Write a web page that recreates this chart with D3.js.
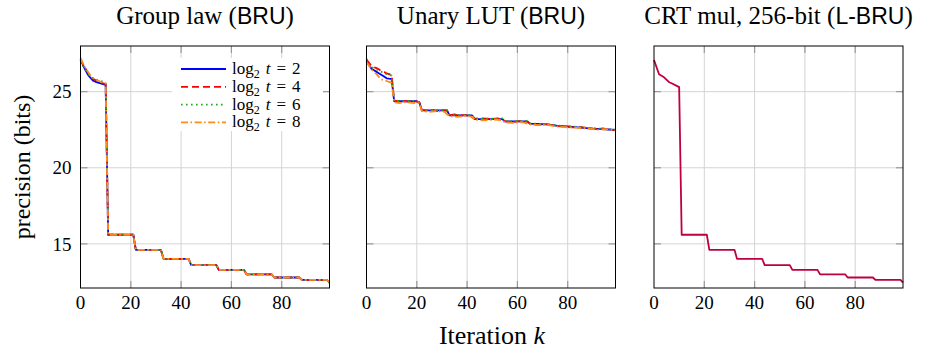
<!DOCTYPE html>
<html>
<head>
<meta charset="utf-8">
<script src="https://cdn.jsdelivr.net/npm/d3@7"></script>
<style>
  body { margin: 0; background: #fff; }
  text { fill: #000; }
</style>
</head>
<body>
<div id="chart"></div>
<script>
// ---- data: [iteration k, precision in bits] ----
var xTicks = [0, 20, 40, 60, 80];
var yTicks = [15, 20, 25];
var seriesNames = ["2", "4", "6", "8"];   // log2 t

// Group law (BRU): the four runs share the staircase after k = 11
var groupLawTail = [[11,15.6],[21,15.6],[22,14.6],[32,14.6],[33,14.02],[43,14.02],[44,13.6],[54,13.6],
  [55,13.29],[65,13.29],[66,13.0],[76,13.0],[77,12.79],[87,12.79],[88,12.64],[98,12.64],[99,12.46]];
var groupLawT2 = [[0,27.1],[1,26.75],[2,26.4],[3,26.1],[4,25.9],[5,25.72],[6,25.65],[7,25.6],[8,25.55],[9,25.5],[10,25.45]];
var groupLawT4 = [[0,27.15],[1,26.8],[2,26.5],[3,26.25],[4,26.0],[5,25.85],[6,25.75],[7,25.7],[8,25.65],[9,25.55],[10,25.5]];
var groupLawT6 = [[0,27.0],[1,26.7],[2,26.45],[3,26.2],[4,26.0],[5,25.85],[6,25.8],[7,25.75],[8,25.7],[9,25.65],[10,25.6]];
var groupLawT8 = [[0,27.2],[1,26.85],[2,26.55],[3,26.3],[4,26.05],[5,25.9],[6,25.8],[7,25.72],[8,25.65],[9,25.6],[10,25.55]];

// Unary LUT (BRU)
var unaryT2 = [[0,27.0],[1,26.75],[2,26.5],[3,26.4],[4,26.3],[5,26.2],[6,26.1],[7,26.0],[8,25.88],[9,25.85],[10,25.83],
  [11,24.37],[20,24.37],[21,24.3],[22,23.77],[32,23.77],[33,23.44],[42,23.44],[43,23.2],[54,23.2],[55,23.05],[64,23.05],
  [65,22.9],[72,22.85],[76,22.75],[80,22.72],[86,22.62],[90,22.57],[95,22.53],[99,22.48]];
var unaryT4 = [[0,27.1],[1,26.9],[2,26.7],[3,26.6],[4,26.55],[5,26.45],[6,26.35],[7,26.3],[8,26.2],[9,26.15],[10,26.1],
  [11,24.42],[13,24.35],[15,24.4],[17,24.33],[19,24.4],[21,24.3],[22,23.8],[24,23.75],[26,23.8],[28,23.72],[30,23.78],
  [32,23.75],[33,23.45],[35,23.5],[37,23.42],[39,23.47],[41,23.4],[43,23.22],[46,23.25],[49,23.2],[52,23.24],[54,23.18],
  [55,23.05],[58,23.0],[61,23.06],[64,23.02],[65,22.88],[68,22.82],[71,22.86],[74,22.8],[76,22.74],[79,22.7],[82,22.65],
  [85,22.68],[88,22.6],[91,22.55],[94,22.58],[97,22.5],[99,22.47]];
var unaryT6 = [[0,27.15],[1,26.85],[2,26.65],[3,26.5],[4,26.45],[5,26.4],[6,26.3],[7,26.25],[8,26.15],[9,26.1],[10,26.05],
  [11,24.4],[14,24.38],[18,24.4],[21,24.33],[22,23.8],[27,23.78],[32,23.8],[33,23.47],[38,23.45],[42,23.46],[43,23.23],
  [50,23.22],[54,23.24],[55,23.07],[60,23.06],[64,23.08],[65,22.92],[70,22.87],[76,22.77],[81,22.72],[86,22.65],
  [92,22.58],[99,22.5]];
var unaryT8 = [[0,26.95],[1,26.7],[2,26.45],[3,26.3],[4,26.15],[5,25.95],[6,25.8],[7,25.75],[8,25.7],[9,25.65],[10,25.6],
  [11,24.3],[13,24.25],[16,24.32],[18,24.26],[21,24.25],[22,23.72],[25,23.68],[28,23.73],[31,23.67],[33,23.38],[36,23.35],
  [39,23.4],[42,23.36],[43,23.15],[47,23.12],[51,23.17],[54,23.12],[55,22.98],[58,22.95],[62,23.0],[65,22.85],[68,22.8],
  [72,22.82],[76,22.7],[80,22.66],[84,22.62],[88,22.58],[92,22.5],[95,22.54],[99,22.45]];

// CRT mul, 256-bit (L-BRU)
var crtMul = [[0,27.08],[2,26.14],[4,25.94],[6,25.62],[7,25.55],[10,25.3],[11,15.6],[21,15.6],[22,14.61],[32,14.61],
  [33,14.02],[43,14.02],[44,13.6],[54,13.6],[55,13.29],[65,13.29],[66,13.0],[76,13.0],[77,12.79],[87,12.79],
  [88,12.64],[98,12.64],[99,12.46]];

// ---- styles ----
var styles = [
  { color: "#0000ff", dash: null },
  { color: "#ff0000", dash: "7,4" },
  { color: "#1faa1f", dash: "1.6,3.4" },
  { color: "#ff8c1a", dash: "7,2.5,1.6,2.5" }
];
var serif = "'Liberation Serif', 'DejaVu Serif', serif";
var sans = "'Liberation Sans', 'DejaVu Sans', sans-serif";

var width = 927, height = 349;
var plotTop = 46, plotBottom = 288, panelW = 249;
var panels = [
  { x0: 80.5, title: "Group law ", tag: "BRU",
    series: [groupLawT2.concat(groupLawTail), groupLawT4.concat(groupLawTail),
             groupLawT6.concat(groupLawTail), groupLawT8.concat(groupLawTail)] },
  { x0: 366.5, title: "Unary LUT ", tag: "BRU", series: [unaryT2, unaryT4, unaryT6, unaryT8] },
  { x0: 654, title: "CRT mul, 256-bit ", tag: "L-BRU", series: [crtMul], color: "#bf0040" }
];

var svg = d3.select("#chart").append("svg")
  .attr("width", width)
  .attr("height", height);

var y = d3.scaleLinear().domain([12.1, 28.0]).range([plotBottom, plotTop]);

panels.forEach(function(p, pi) {
  var x = d3.scaleLinear().domain([0, 99]).range([p.x0, p.x0 + panelW]);
  var g = svg.append("g");

  // grid
  g.selectAll(".gx").data(xTicks.slice(1)).enter().append("line")
    .attr("x1", function(d) { return x(d); }).attr("x2", function(d) { return x(d); })
    .attr("y1", plotTop).attr("y2", plotBottom)
    .style("stroke", "#d4d4d4").style("stroke-width", 1);
  g.selectAll(".gy").data(yTicks).enter().append("line")
    .attr("x1", x.range()[0]).attr("x2", x.range()[1])
    .attr("y1", function(d) { return y(d); }).attr("y2", function(d) { return y(d); })
    .style("stroke", "#d4d4d4").style("stroke-width", 1);

  // inner tick marks on all four sides
  var tl = 7;
  xTicks.slice(1).forEach(function(d) {
    [[plotBottom, plotBottom - tl], [plotTop, plotTop + tl]].forEach(function(s) {
      g.append("line").attr("x1", x(d)).attr("x2", x(d)).attr("y1", s[0]).attr("y2", s[1])
        .style("stroke", "#999").style("stroke-width", 1.2);
    });
  });
  yTicks.forEach(function(d) {
    [[x.range()[0], x.range()[0] + tl], [x.range()[1], x.range()[1] - tl]].forEach(function(s) {
      g.append("line").attr("x1", s[0]).attr("x2", s[1]).attr("y1", y(d)).attr("y2", y(d))
        .style("stroke", "#999").style("stroke-width", 1.2);
    });
  });

  // series
  var line = d3.line().x(function(d) { return x(d[0]); }).y(function(d) { return y(d[1]); });
  p.series.forEach(function(s, i) {
    g.append("path").datum(s)
      .attr("d", line)
      .style("fill", "none")
      .style("stroke", p.color || styles[i].color)
      .style("stroke-width", 1.8)
      .style("stroke-linejoin", "round")
      .style("stroke-dasharray", p.color ? null : styles[i].dash);
  });

  // frame
  g.append("rect").attr("x", p.x0).attr("y", plotTop).attr("width", panelW).attr("height", plotBottom - plotTop)
    .style("fill", "none").style("stroke", "#000").style("stroke-width", 1);

  // x tick labels
  g.selectAll(".xl").data(xTicks).enter().append("text")
    .attr("x", function(d) { return x(d); }).attr("y", plotBottom + 21)
    .attr("text-anchor", "middle")
    .style("font-family", serif).style("font-size", "19px")
    .text(function(d) { return d; });

  // y tick labels on first panel only
  if (pi === 0) {
    g.selectAll(".yl").data(yTicks).enter().append("text")
      .attr("x", p.x0 - 9).attr("y", function(d) { return y(d); })
      .attr("dy", "0.35em").attr("text-anchor", "end")
      .style("font-family", serif).style("font-size", "19px")
      .text(function(d) { return d; });
  }

  // title
  var t = g.append("text").attr("x", p.x0 + panelW / 2).attr("y", 24)
    .attr("text-anchor", "middle")
    .style("font-family", serif).style("font-size", "25px");
  t.append("tspan").text(p.title + "(");
  t.append("tspan").style("font-family", sans).style("font-size", "23px").text(p.tag);
  t.append("tspan").text(")");
});

// legend in the first panel
var lg = svg.append("g");
lg.append("rect").attr("x", 172).attr("y", 58).attr("width", 151).attr("height", 73).style("fill", "#fff");
seriesNames.forEach(function(n, i) {
  var ly = 69 + i * 17.8;
  lg.append("line").attr("x1", 181).attr("x2", 226).attr("y1", ly).attr("y2", ly)
    .style("stroke", styles[i].color).style("stroke-width", 1.8)
    .style("stroke-dasharray", styles[i].dash);
  var tx = lg.append("text").attr("x", 232).attr("y", ly + 5)
    .style("font-family", serif).style("font-size", "17px");
  tx.append("tspan").text("log");
  tx.append("tspan").attr("dy", 4).style("font-size", "12px").text("2");
  tx.append("tspan").attr("dy", -4).attr("dx", 6).style("font-style", "italic").text("t");
  tx.append("tspan").attr("dx", 6).text("=");
  tx.append("tspan").attr("dx", 6).text(n);
});

// axis labels
var xl = svg.append("text").attr("x", 492).attr("y", 344).attr("text-anchor", "middle")
  .style("font-family", serif).style("font-size", "26px");
xl.append("tspan").text("Iteration ");
xl.append("tspan").style("font-style", "italic").text("k");

svg.append("text").attr("transform", "translate(30," + ((plotTop + plotBottom) / 2) + ") rotate(-90)")
  .attr("text-anchor", "middle")
  .style("font-family", serif).style("font-size", "24px")
  .text("precision (bits)");
</script>
</body>
</html>
